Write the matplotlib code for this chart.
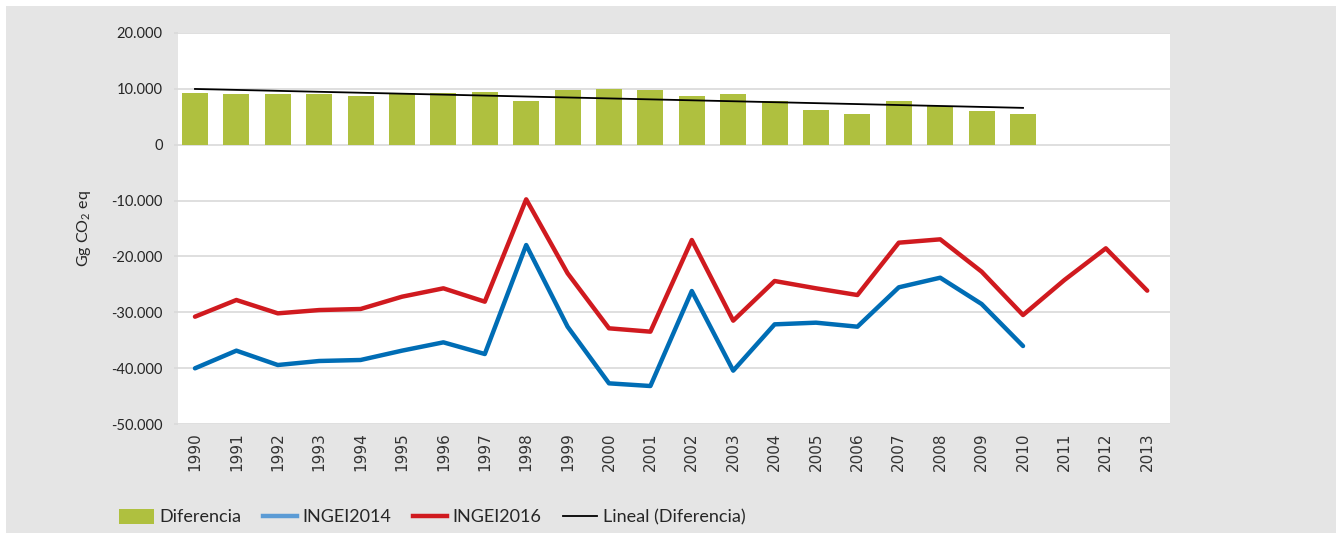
import numpy as np
import matplotlib
matplotlib.use("Agg")
import matplotlib.pyplot as plt
from matplotlib.patches import Patch, Rectangle
from matplotlib.lines import Line2D
from matplotlib.ticker import FuncFormatter

years = [str(y) for y in range(1990, 2014)]

# Diferencia INGEI2016 - INGEI2014 (Gg CO2 eq), 1990-2010
diferencia = [9250, 9070, 9070, 9070, 8720, 9250, 9250, 9430, 7820, 9790, 9970,
              9790, 8720, 9070, 7820, 6210, 5500, 7820, 6920, 6030, 5500]

ingei2014 = [-40030, -36870, -39440, -38720, -38540, -36870, -35380, -37470,
             -17960, -32580, -42720, -43200, -26190, -40450, -32160, -31860,
             -32580, -25530, -23810, -28520, -36040]

ingei2016 = [-30790, -27800, -30190, -29600, -29410, -27210, -25710, -28100,
             -9780, -23020, -32870, -33470, -17060, -31500, -24400, -25710,
             -26910, -17540, -16940, -22730, -30490, -24220, -18550, -26130]

GREEN = "#afc03f"
BLUE = "#006db5"
BLUE_LEG = "#5b9bd5"
RED = "#d01a1f"
GRID = "#d9d9d9"
BG = "#e5e5e5"

plt.rcParams["font.family"] = ["Lato", "DejaVu Sans"]
plt.rcParams["mathtext.default"] = "regular"

fig = plt.figure(figsize=(13.36, 5.33), dpi=100)
fig.patches.append(Rectangle((6 / 1336, 0), 1, 1 - 6 / 533, transform=fig.transFigure,
                             facecolor=BG, edgecolor="none", zorder=-10))

ax = fig.add_axes([178 / 1336, 1 - 424 / 533, 992 / 1336, 391 / 533])
ax.set_facecolor("white")

x_bar = np.arange(len(diferencia))
ax.bar(x_bar, diferencia, width=0.63, color=GREEN, zorder=2)

# linear trend of the difference
coef = np.polyfit(x_bar, diferencia, 1)
ax.plot(x_bar[[0, -1]], np.polyval(coef, x_bar[[0, -1]]), color="black",
        linewidth=1.3, zorder=3)

ax.plot(np.arange(len(ingei2014)), ingei2014, color=BLUE, linewidth=3.2,
        solid_joinstyle="round", solid_capstyle="round", zorder=4)
ax.plot(np.arange(len(ingei2016)), ingei2016, color=RED, linewidth=3.2,
        solid_joinstyle="round", solid_capstyle="round", zorder=4)

ax.set_xlim(-0.41, 23.55)
ax.set_ylim(-50000, 20000)
ax.set_yticks(np.arange(-50000, 20001, 10000))
ax.yaxis.set_major_formatter(FuncFormatter(lambda v, p: f"{v:,.0f}".replace(",", ".")))
ax.grid(axis="y", color=GRID, linewidth=1.2, zorder=0)
ax.set_axisbelow(True)
for s in ax.spines.values():
    s.set_visible(False)

ax.set_xticks(np.arange(len(years)))
ax.set_xticklabels(years, rotation=90, family="DejaVu Sans", fontsize=11, color="#333333")
ax.tick_params(axis="x", length=0, pad=6)
ax.tick_params(axis="y", length=3, color=GRID, width=1.2, pad=8, labelsize=10.5,
               labelcolor="#262626")

ax.set_ylabel("Gg CO$_2$ eq", fontsize=11.5, color="#262626")
ax.yaxis.set_label_coords((93 - 178) / 992, 0.5)

handles = [
    Patch(facecolor=GREEN, edgecolor="none"),
    Line2D([], [], color=BLUE_LEG, linewidth=3.2),
    Line2D([], [], color=RED, linewidth=3.2),
    Line2D([], [], color="black", linewidth=1.3),
]
labels = ["Diferencia", "INGEI2014", "INGEI2016", "Lineal (Diferencia)"]
fig.legend(handles, labels, ncol=4, loc="center left",
           bbox_to_anchor=(103 / 1336, 1 - 517 / 533), frameon=False,
           fontsize=13, handlelength=1.9, handleheight=0.9,
           handletextpad=0.3, columnspacing=1.2, labelcolor="#262626")

fig.savefig("out.png", dpi=100)
